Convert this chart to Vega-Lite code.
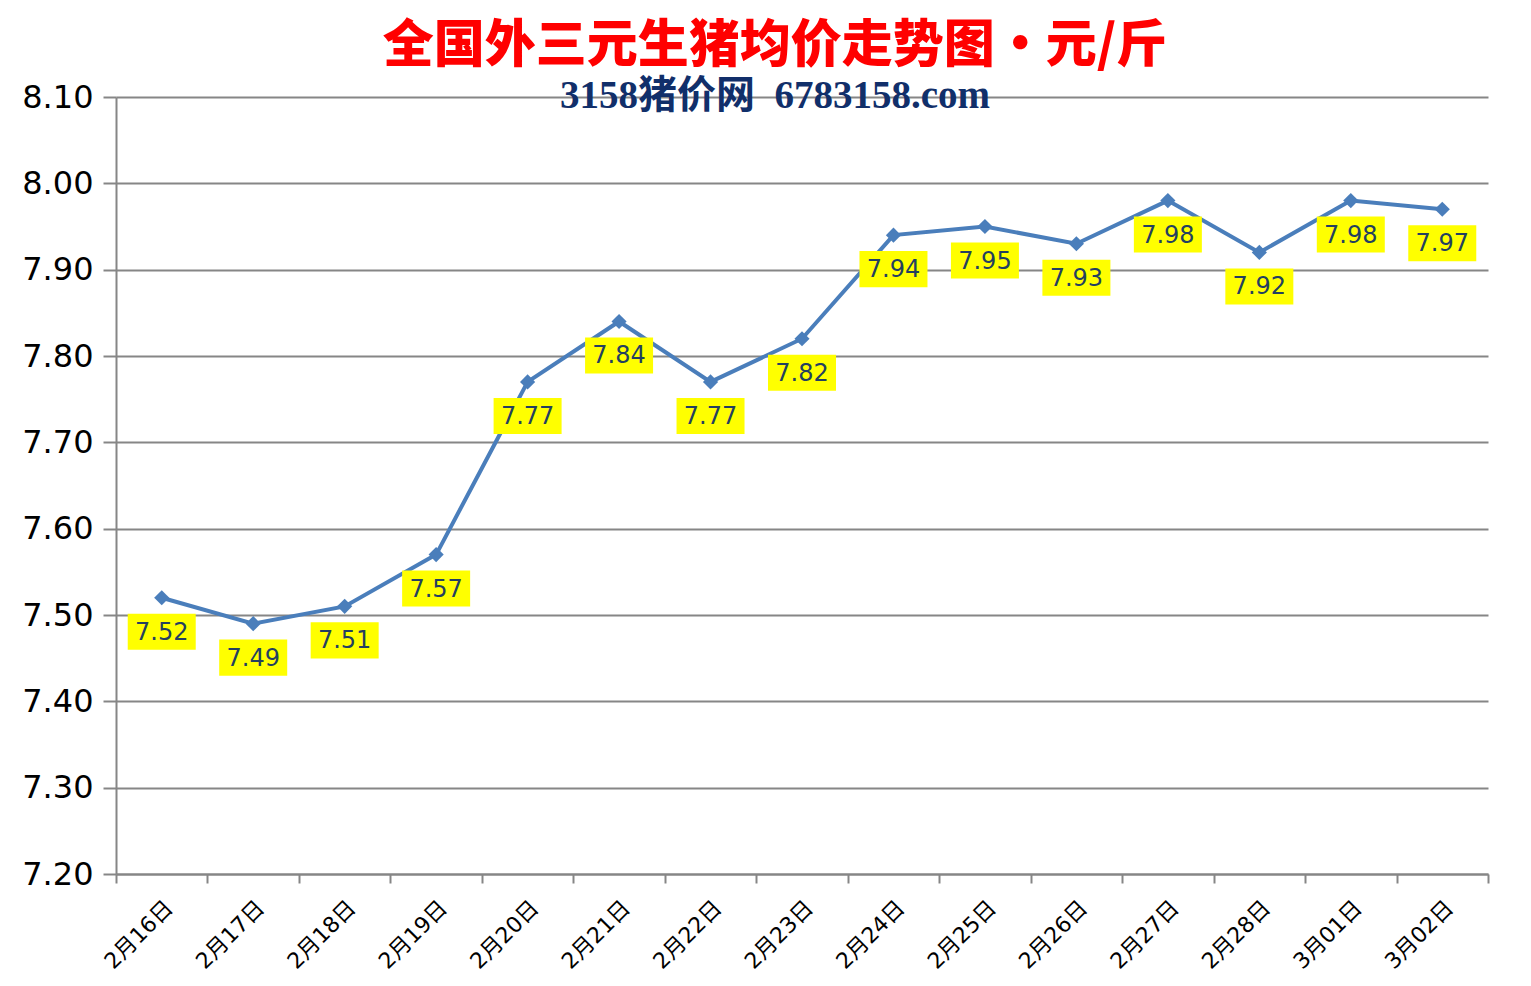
{
  "$schema": "https://vega.github.io/schema/vega-lite/v6.json",
  "autosize": "none",
  "width": 1372,
  "height": 777,
  "padding": {"left": 116, "top": 97, "right": 43, "bottom": 112},
  "background": "#FFFFFF",
  "title": {
    "text": "全国外三元生猪均价走势图・元/斤",
    "subtitle": "3158猪价网\u00a0 6783158.com",
    "font": "Noto Sans CJK SC",
    "fontSize": 51,
    "fontWeight": 900,
    "color": "#FF0000",
    "subtitleFont": "Liberation Serif, Noto Sans CJK SC",
    "subtitleFontSize": 39,
    "subtitleFontWeight": "bold",
    "subtitleColor": "#112F6A",
    "subtitlePadding": 4,
    "anchor": "middle",
    "dx": -27,
    "offset": -36
  },
  "data": {
    "values": [
      {"date": "2月16日", "price": 7.52},
      {"date": "2月17日", "price": 7.49},
      {"date": "2月18日", "price": 7.51},
      {"date": "2月19日", "price": 7.57},
      {"date": "2月20日", "price": 7.77},
      {"date": "2月21日", "price": 7.84},
      {"date": "2月22日", "price": 7.77},
      {"date": "2月23日", "price": 7.82},
      {"date": "2月24日", "price": 7.94},
      {"date": "2月25日", "price": 7.95},
      {"date": "2月26日", "price": 7.93},
      {"date": "2月27日", "price": 7.98},
      {"date": "2月28日", "price": 7.92},
      {"date": "3月01日", "price": 7.98},
      {"date": "3月02日", "price": 7.97}
    ]
  },
  "encoding": {
    "x": {
      "field": "date",
      "type": "ordinal",
      "sort": null,
      "scale": {"type": "band", "paddingInner": 0, "paddingOuter": 0},
      "axis": {
        "title": null,
        "labelAngle": -45,
        "labelFont": "DejaVu Sans, Noto Sans CJK SC",
        "labelFontSize": 22,
        "labelColor": "#000000",
        "labelPadding": 14,
        "labelDx": -8,
        "tickBand": "extent",
        "tickSize": 9,
        "tickWidth": 2,
        "tickColor": "#868686",
        "domainColor": "#868686",
        "domainWidth": 2,
        "grid": false
      }
    },
    "y": {
      "field": "price",
      "type": "quantitative",
      "scale": {"domain": [7.2, 8.1], "nice": false, "zero": false},
      "axis": {
        "title": null,
        "values": [7.2, 7.3, 7.4, 7.5, 7.6, 7.7, 7.8, 7.9, 8.0, 8.1],
        "format": ".2f",
        "labelFont": "DejaVu Sans",
        "labelFontSize": 32,
        "labelColor": "#000000",
        "labelPadding": 10,
        "tickSize": 13,
        "tickWidth": 2,
        "tickColor": "#868686",
        "domainColor": "#868686",
        "domainWidth": 2,
        "grid": true,
        "gridColor": "#868686",
        "gridWidth": 2
      }
    }
  },
  "layer": [
    {
      "mark": {"type": "line", "color": "#4A7EBB", "strokeWidth": 4}
    },
    {
      "mark": {"type": "point", "shape": "diamond", "filled": true, "size": 230, "color": "#4A7EBB", "opacity": 1}
    },
    {
      "mark": {
        "type": "point",
        "shape": "M-1,-0.53L1,-0.53L1,0.53L-1,0.53Z",
        "filled": true,
        "size": 4624,
        "color": "#FFFF00",
        "opacity": 1,
        "yOffset": 34
      }
    },
    {
      "mark": {
        "type": "text",
        "font": "DejaVu Sans",
        "fontSize": 24,
        "color": "#243F60",
        "baseline": "middle",
        "align": "center",
        "yOffset": 35
      },
      "encoding": {"text": {"field": "price", "type": "quantitative", "format": ".2f"}}
    }
  ],
  "config": {"view": {"stroke": null}}
}
